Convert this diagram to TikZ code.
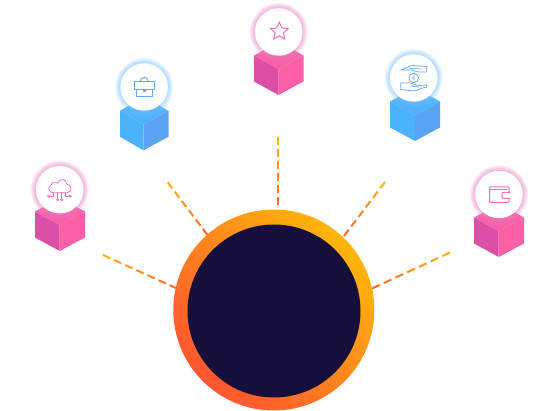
\documentclass[tikz,border=0pt]{standalone}
\usetikzlibrary{calc,shapes.geometric}
\definecolor{dashfar}{HTML}{FFB00A}
\definecolor{dashnear}{HTML}{FF6A2B}
\definecolor{ringhi}{HTML}{FFB60A}
\definecolor{ringlo}{HTML}{FF5530}
\definecolor{coreink}{HTML}{160F3B}
\definecolor{pinkL}{HTML}{DC4FA6}
\definecolor{pinkR}{HTML}{FB5FA6}
\definecolor{pinkT}{HTML}{FF70B4}
\definecolor{pinkT2}{HTML}{F65CA8}
\definecolor{pinkGlow}{HTML}{EE80C4}
\definecolor{pinkIcon}{HTML}{F06FB0}
\definecolor{blueL}{HTML}{4BB3FC}
\definecolor{blueR}{HTML}{5AA4F3}
\definecolor{blueT}{HTML}{5CBEFF}
\definecolor{blueT2}{HTML}{49AFFA}
\definecolor{blueGlow}{HTML}{7CC6FF}
\definecolor{blueIcon}{HTML}{62A8F5}
\tikzset{
  x=1pt,y=-1pt,
  badge/.style={circle,fill=white,minimum size=47.5pt,inner sep=0pt,draw=none},
  iconline/.style={line width=0.75pt,line join=round,line cap=round,fill=none},
}
\newcommand\isocube[5]{% cx, midy, left, right, colour prefix
  \fill[#5L] (#3,#2-13.5) -- (#1,#2) -- (#1,#2+26) -- (#3,#2+12.5) -- cycle;
  \fill[#5R] (#4,#2-13.5) -- (#1,#2) -- (#1,#2+26) -- (#4,#2+12.5) -- cycle;
  \shade[top color=#5T,bottom color=#5T2] (#1,#2) -- (#3,#2-13.5) -- (#1,#2-27) -- (#4,#2-13.5) -- cycle;
}
\newcommand\halo[3]{% x,y,colour
  \foreach \r in {24,24.4,24.8,25.2,25.6,26,26.4,26.8,27.2,27.6,28,28.4,28.8,29.2}
    \fill[#3,opacity=0.055] (#1,#2) circle[radius=\r];
}
\newcommand\gradash[3]{% far, near, n
  \foreach \i in {1,...,#3}{
    \pgfmathsetmacro\pct{100*(\i-1)/(#3-1)}
    \draw[line width=2pt,draw=dashnear!\pct!dashfar]
      ($(#1)!{(\i-1)/(#3-0.35)}!(#2)$) -- ($(#1)!{(\i-0.35)/(#3-0.35)}!(#2)$);
  }
}
\begin{document}
\begin{tikzpicture}
\useasboundingbox (0,0) rectangle (558,411);
\fill[white] (0,0) rectangle (558,411);

% connector ends
\coordinate (f1) at (103,255);   \coordinate (n1) at (177,288.5);
\coordinate (f2) at (167.7,182.3); \coordinate (n2) at (207.5,235);
\coordinate (f3) at (278,137);   \coordinate (n3) at (278,205);
\coordinate (f4) at (385,182);   \coordinate (n4) at (344,236);
\coordinate (f5) at (450,252.5); \coordinate (n5) at (372,288.5);
\gradash{f1}{n1}{7}
\gradash{f2}{n2}{6}
\gradash{f3}{n3}{6}
\gradash{f4}{n4}{6}
\gradash{f5}{n5}{7}

% central disc
\node[circle,minimum size=201pt,inner sep=0pt,top color=ringhi,bottom color=ringlo,shading angle=-45] (ring) at (273.8,310) {};
\node[circle,minimum size=173pt,inner sep=0pt,fill=coreink] (core) at (274,311) {};

% cubes and halos
\isocube{59.7}{225}{35}{85}{pink}
\halo{59.7}{189.7}{pinkGlow}
\node[badge] (cloud) at (59.7,189.7) {};

\isocube{143.5}{124.3}{120}{168.5}{blue}
\halo{144.2}{87}{blueGlow}
\node[badge] (case) at (144.2,87) {};

\isocube{278.5}{69}{254}{303.5}{pink}
\halo{278.7}{32}{pinkGlow}
\node[badge] (starbadge) at (278.7,32) {};

\isocube{415}{115}{390}{440}{blue}
\halo{413.7}{78}{blueGlow}
\node[badge] (hands) at (413.7,78) {};

\isocube{498.7}{231}{474}{524}{pink}
\halo{499}{194.5}{pinkGlow}
\node[badge] (wallet) at (499,194.5) {};

% cloud icon
\begin{scope}[shift={(cloud.center)}]
  \draw[iconline,pinkIcon] (-6,3) .. controls (-11,3.5) and (-13,-3) .. (-8.5,-5)
     .. controls (-7.5,-8) and (-3.5,-8) .. (-2,-6.5)
     .. controls (0,-12) and (7,-11) .. (7,-5.5)
     .. controls (12,-5.5) and (13,2.5) .. (7.5,3) -- cycle;
  \draw[iconline,pinkIcon] (-6,3) -- (-6,6.5) -- (-9.5,6.5);
  \draw[iconline,pinkIcon] (-2,3) -- (-2,9);
  \draw[iconline,pinkIcon] (2,3) -- (2,9);
  \draw[iconline,pinkIcon] (6,3) -- (6,6.5) -- (9,6.5);
  \foreach \p in {(-11,6.5),(-2,10),(2,10),(10.5,6.5)}
    \draw[iconline,pinkIcon] \p circle[radius=1.2];
\end{scope}

% briefcase icon
\begin{scope}[shift={(case.center)}]
  \draw[iconline,blueIcon,line width=1pt] (-10,-5.5) rectangle (10,2.5);
  \draw[iconline,blueIcon,line width=1pt] (-8,2.5) -- (-8,9.5) -- (8.5,9.5) -- (8.5,2.5);
  \draw[iconline,blueIcon,line width=1pt] (-4,-5.5) .. controls (-4,-11) and (4,-11) .. (4,-5.5);
  \fill[blueIcon] (-1.3,2.5) rectangle (1.3,5);
\end{scope}

% star icon
\node[star,star points=5,star point ratio=2.1,minimum size=18.5pt,inner sep=0pt,draw=pinkIcon,line width=1pt] (staricon) at (279.3,31.5) {};

% hands icon
\begin{scope}[shift={(hands.center)}]
  \draw[iconline,blueIcon] (-13,-8) .. controls (-8,-9) and (-5,-12.5) .. (-1,-12.5)
     -- (13,-11.5) -- (13,-6) -- (5,-6) .. controls (2,-6) and (0,-8) .. (-3,-8) -- cycle;
  \draw[iconline,blueIcon] (-4,-9.5) -- (7,-9);
  \draw[iconline,blueIcon] (-13,5) -- (-3,5) .. controls (-1,5.5) and (2,7.5) .. (6,7.5)
     -- (13,7) -- (13,9) .. controls (7,10) and (3,13) .. (0,13) -- (-13,11.5) -- cycle;
  \draw[iconline,blueIcon] (-3,8) -- (5,9);
  \node[circle,draw=blueIcon,line width=0.75pt,minimum size=9.5pt,inner sep=0pt,text=blueIcon,font=\fontsize{6}{6}\selectfont] (coin) at (0,0) {\$};
\end{scope}

% wallet icon
\begin{scope}[shift={(wallet.center)}]
  \draw[iconline,pinkIcon,rounded corners=1pt,line width=1pt] (10,-2) -- (10,-7.5) -- (-9.5,-7.5) -- (-9.5,8) -- (10,8) -- (10,4);
  \draw[iconline,pinkIcon,line width=0.7pt] (-9.5,-5) -- (8,-5);
  \draw[iconline,pinkIcon,line width=1pt,rounded corners=1pt] (11,-2) -- (3,-2) -- (3,4) -- (11,4);
\end{scope}
\end{tikzpicture}
\end{document}
